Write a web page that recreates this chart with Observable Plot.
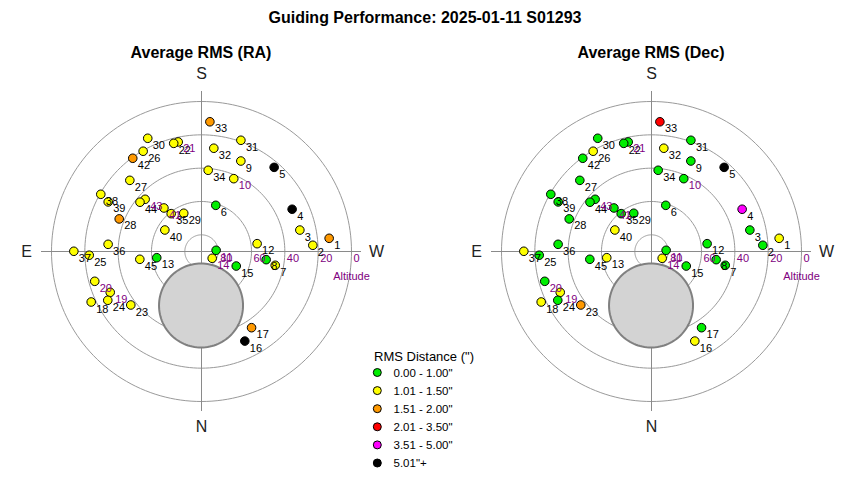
<!DOCTYPE html>
<html><head><meta charset="utf-8">
<script src="https://cdn.jsdelivr.net/npm/d3@7"></script>
<script src="https://cdn.jsdelivr.net/npm/@observablehq/plot@0.6"></script>
<style>
body{margin:0;background:#fff;font-family:Arial,"Liberation Sans",sans-serif;}
#wrap{position:relative;width:850px;height:480px;overflow:hidden;background:#fff;}
.t{position:absolute;white-space:nowrap;color:#000;}
</style></head><body><div id="wrap"></div>
<script>
// ---- data ----
const ids = d3.range(1, 46);
const altitude = [13.0,23.1,29.6,30.0,23.3,61.0,45.0,50.9,30.8,42.2,81.2,56.3,62.9,82.4,67.4,30.3,35.3,17.2,30.0,23.5,22.8,23.0,36.8,26.6,22.6,20.4,29.4,36.9,64.7,14.8,19.2,27.6,12.0,41.1,60.9,33.8,13.4,20.5,26.6,64.5,55.5,20.5,43.9,42.7,52.7];
const azimuth = [264.1,266.8,257.7,245.0,220.8,197.2,280.6,277.2,203.5,203.9,265.3,262.0,82.1,302.4,292.7,334.2,326.7,65.4,65.9,74.4,168.0,165.6,52.9,62.5,88.1,149.8,134.8,111.6,155.1,154.6,199.5,186.8,183.7,184.7,141.3,94.4,90.1,119.6,118.0,120.4,139.2,143.6,132.8,128.7,82.8];
// class index into rmsClasses
const raClass  = [2,1,1,5,5,0,1,0,1,1,0,1,0,1,0,5,2,1,1,1,1,1,1,1,1,1,1,2,1,1,1,1,2,1,1,1,1,1,1,1,1,2,1,1,1];
const decClass = [1,0,0,4,5,0,0,0,0,0,0,0,1,1,0,1,0,1,1,0,0,0,2,0,0,1,0,0,0,0,0,1,3,0,0,0,1,0,0,1,0,0,0,0,0];
const purpleLabels = [10,11,14,19,20,21,41,43];
const rmsClasses = ["0.00 - 1.00\"","1.01 - 1.50\"","1.51 - 2.00\"","2.01 - 3.50\"","3.51 - 5.00\"","5.01\"+"];
const classColors = ["#00ee00","#ffff00","#ff9900","#ff0000","#ff00ff","#000000"];
const ringAlts = [0,20,40,60,80];
const compass = [{t:"N",az:0},{t:"E",az:90},{t:"S",az:180},{t:"W",az:270}];
const moon = {alt:57.6, az:0.5, radius:25.2};
const mainTitle = "Guiding Performance: 2025-01-11 S01293";
const panelTitles = ["Average RMS (RA)","Average RMS (Dec)"];
const legendTitle = "RMS Distance (\")";

// ---- projection (zenith distance, N down, E left) ----
const rad = Math.PI/180;
function proj(alt, az){ const z = 90 - alt; return {x: -z*Math.sin(az*rad), y: z*Math.cos(az*rad)}; }

const wrap = document.getElementById("wrap");
function addText(txt, css){ const d = document.createElement("div"); d.className="t"; d.textContent=txt; Object.assign(d.style, css); wrap.appendChild(d); return d; }

addText(mainTitle, {left:"0px", width:"850px", textAlign:"center", top:"9px", fontSize:"16px", fontWeight:"bold", lineHeight:"18px"});

function panel(cls, title, left){
  const pts = ids.map((id,i)=>({id, c: cls[i], purple: purpleLabels.includes(id), ...proj(altitude[i], azimuth[i])}));
  const rings = ringAlts.flatMap(a => d3.range(0, 362, 2).map(t => ({ring:a, ...proj(a, t)})));
  const mc = proj(moon.alt, moon.az);
  const moonPts = d3.range(0, 362, 3).map(t => ({x: mc.x + moon.radius*Math.cos(t*rad), y: mc.y + moon.radius*Math.sin(t*rad)}));
  const svg = Plot.plot({
    width: 400, height: 380, margin: 0,
    style: {fontFamily: "Arial, 'Liberation Sans', sans-serif", background: "transparent", overflow: "visible"},
    x: {domain: [-120.6, 119.4], range: [0, 400], axis: null},
    y: {domain: [-114, 114], range: [0, 380], axis: null},
    color: {domain: d3.range(6), range: classColors},
    marks: [
      Plot.line(rings, {x:"x", y:"y", z:"ring", stroke:"#9a9a9a", strokeWidth:1}),
      Plot.ruleY([0], {x1:-96, x2:96, stroke:"#8a8a8a", strokeWidth:1}),
      Plot.ruleX([0], {y1:-96, y2:96, stroke:"#8a8a8a", strokeWidth:1}),
      Plot.line(moonPts, {x:"x", y:"y", fill:"#d3d3d3", stroke:"#808080", strokeWidth:2}),
      Plot.dot(pts, {x:"x", y:"y", r:4.3, fill:"c", stroke:"#000", strokeWidth:1}),
      Plot.text(ringAlts, {x: a => 90 - a, y: 0, text: a => String(a), dx: 2, dy: 7, textAnchor:"start", fill:"#800080", fontSize:11}),
      Plot.text(["Altitude"], {x: 90, y: 0, text: d => d, dy: 25, textAnchor:"middle", fill:"#800080", fontSize:11}),
      Plot.text(pts.filter(d=>!d.purple), {x:"x", y:"y", text:"id", dx:5, dy:7, textAnchor:"start", fill:"#000", fontSize:11}),
      Plot.text(pts.filter(d=>d.purple), {x:"x", y:"y", text:"id", dx:5, dy:7, textAnchor:"start", fill:"#800080", fontSize:11}),
      Plot.text(compass, {x: d => proj(-15, d.az).x, y: d => proj(-15, d.az).y*(d.t==="S"?1.015:1), text:"t", fill:"#222", fontSize:16})
    ]
  });
  svg.style.position = "absolute";
  svg.style.left = left + "px";
  svg.style.top = "60.5px";
  wrap.appendChild(svg);
  addText(title, {left:(left+201-150)+"px", width:"300px", textAlign:"center", top:"44px", fontSize:"16px", fontWeight:"bold", lineHeight:"18px"});
}
panel(raClass, panelTitles[0], 0);
panel(decClass, panelTitles[1], 450);

// ---- legend ----
addText(legendTitle, {left:"374px", top:"348px", fontSize:"13px", lineHeight:"17px"});
const lg = d3.select(wrap).append("svg").attr("width", 140).attr("height", 120)
  .style("position","absolute").style("left","360px").style("top","362px");
rmsClasses.forEach((c,i)=>{
  const y = 10.5 + 18.1*i;
  lg.append("circle").attr("cx",17.3).attr("cy",y).attr("r",4).attr("fill",classColors[i]).attr("stroke","#000").attr("stroke-width",1);
  lg.append("text").attr("x",33.5).attr("y",y).attr("dy","0.35em").attr("font-size","11.5px").attr("font-family","Arial, 'Liberation Sans', sans-serif").attr("fill","#000").text(c);
});
</script></body></html>
